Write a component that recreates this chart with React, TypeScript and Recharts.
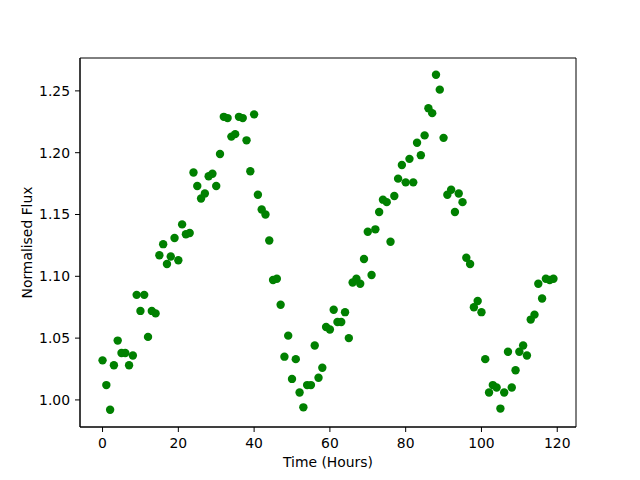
import { ScatterChart, Scatter, XAxis, YAxis, ReferenceArea } from 'recharts';

// hourly samples, t = 0..119
const hours = Array.from({ length: 120 }, (_, i) => i);

const flux = [
  1.032, 1.012, 0.992, 1.028, 1.048, 1.038, 1.038, 1.028, 1.036, 1.085,
  1.072, 1.085, 1.051, 1.072, 1.070, 1.117, 1.126, 1.110, 1.116, 1.131,
  1.113, 1.142, 1.134, 1.135, 1.184, 1.173, 1.163, 1.167, 1.181, 1.183,
  1.173, 1.199, 1.229, 1.228, 1.213, 1.215, 1.229, 1.228, 1.210, 1.185,
  1.231, 1.166, 1.154, 1.150, 1.129, 1.097, 1.098, 1.077, 1.035, 1.052,
  1.017, 1.033, 1.006, 0.994, 1.012, 1.012, 1.044, 1.018, 1.026, 1.059,
  1.057, 1.073, 1.063, 1.063, 1.071, 1.050, 1.095, 1.098, 1.094, 1.114,
  1.136, 1.101, 1.138, 1.152, 1.162, 1.160, 1.128, 1.165, 1.179, 1.190,
  1.176, 1.195, 1.176, 1.208, 1.198, 1.214, 1.236, 1.232, 1.263, 1.251,
  1.212, 1.166, 1.170, 1.152, 1.167, 1.160, 1.115, 1.110, 1.075, 1.080,
  1.071, 1.033, 1.006, 1.012, 1.010, 0.993, 1.006, 1.039, 1.010, 1.024,
  1.039, 1.044, 1.036, 1.065, 1.069, 1.094, 1.082, 1.098, 1.097, 1.098,
];

const xTicks = [0, 20, 40, 60, 80, 100, 120];
const yTicks = [1.0, 1.05, 1.1, 1.15, 1.2, 1.25];

const X_DOMAIN: [number, number] = [-5.95, 124.95];
const Y_DOMAIN: [number, number] = [0.9781, 1.2766];

const data = hours.map((t, i) => ({ t, flux: flux[i] }));

const FONT = 'DejaVu Sans';
const tickStyle = { fill: '#000', fontSize: 13.9, fontFamily: FONT };

const Dot = (props: any) => (
  <circle cx={props.cx} cy={props.cy} r={4.2} fill="#008000" />
);

export default function App() {
  return (
    <div style={{ position: 'absolute', left: 0, top: 0, background: '#fff' }}>
      <ScatterChart width={640} height={480} margin={{ top: 58, right: 64, bottom: 0, left: 0 }}>
        <XAxis
          type="number" dataKey="t" domain={X_DOMAIN} ticks={xTicks}
          allowDataOverflow height={53}
          tick={tickStyle} tickSize={5} tickMargin={6}
          stroke="#000" tickLine={{ stroke: '#000' }}
          label={{ value: 'Time (Hours)', position: 'insideBottom', offset: 13, fill: '#000', fontSize: 13.9, fontFamily: FONT }}
        />
        <YAxis
          type="number" dataKey="flux" domain={Y_DOMAIN} ticks={yTicks}
          allowDataOverflow width={80}
          tick={tickStyle} tickSize={5} tickMargin={5}
          tickFormatter={(v: number) => v.toFixed(2)}
          stroke="#000" tickLine={{ stroke: '#000' }}
          label={{ value: 'Normalised Flux', angle: -90, position: 'insideLeft', offset: 27, fill: '#000', fontSize: 13.9, fontFamily: FONT, style: { textAnchor: 'middle' } }}
        />
        {/* frame around the plot area, like matplotlib's spines */}
        <ReferenceArea
          x1={X_DOMAIN[0]} x2={X_DOMAIN[1]} y1={Y_DOMAIN[0]} y2={Y_DOMAIN[1]}
          fill="none" fillOpacity={0} stroke="#000" strokeWidth={1} strokeOpacity={1}
        />
        <Scatter data={data} shape={Dot} isAnimationActive={false} />
      </ScatterChart>
    </div>
  );
}
